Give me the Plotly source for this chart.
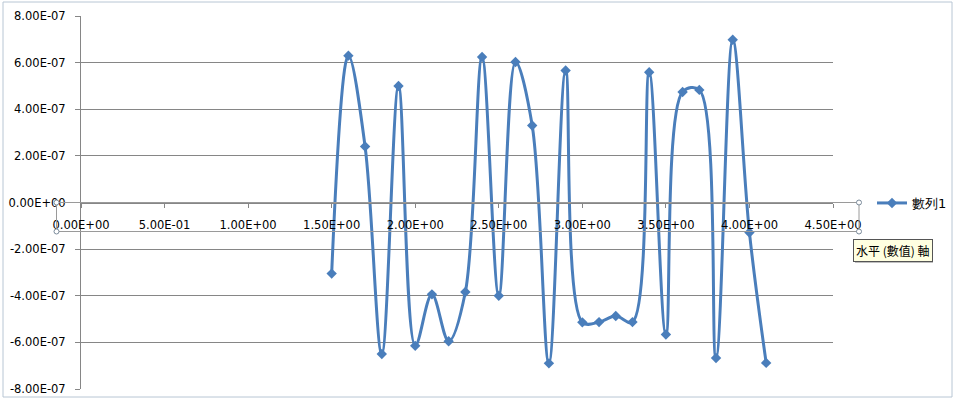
import plotly.graph_objects as go

x_values = [1.5, 1.6, 1.7, 1.8, 1.9, 2.0, 2.1, 2.2, 2.3, 2.4, 2.5, 2.6, 2.7, 2.8,
            2.9, 3.0, 3.1, 3.2, 3.3, 3.4, 3.5, 3.6, 3.7, 3.8, 3.9, 4.0, 4.1]
y_values = [-3.05e-7, 6.3e-7, 2.4e-7, -6.5e-7, 5.0e-7, -6.15e-7, -3.94e-7, -5.95e-7,
            -3.84e-7, 6.24e-7, -4.0e-7, 6.03e-7, 3.3e-7, -6.9e-7, 5.66e-7, -5.14e-7,
            -5.13e-7, -4.87e-7, -5.13e-7, 5.59e-7, -5.66e-7, 4.74e-7, 4.83e-7,
            -6.67e-7, 6.98e-7, -1.29e-7, -6.88e-7]
series_name = "數列1"

y_tick_vals = [8e-7, 6e-7, 4e-7, 2e-7, 0, -2e-7, -4e-7, -6e-7, -8e-7]
y_tick_text = ["8.00E-07", "6.00E-07", "4.00E-07", "2.00E-07", "0.00E+00",
               "-2.00E-07", "-4.00E-07", "-6.00E-07", "-8.00E-07"]
x_tick_vals = [0, 0.5, 1.0, 1.5, 2.0, 2.5, 3.0, 3.5, 4.0, 4.5]
x_tick_text = ["0.00E+00", "5.00E-01", "1.00E+00", "1.50E+00", "2.00E+00",
               "2.50E+00", "3.00E+00", "3.50E+00", "4.00E+00", "4.50E+00"]
tooltip_text = "水平 (數值) 軸"

W, H = 959, 400
L, R, T, B = 81, 126, 16, 11
PW, PH = W - L - R, H - T - B

def px(xp):
    return (xp - L) / PW

def py(yp):
    return (H - B - yp) / PH

BLUE = "#4A7EBB"
GRID = "#868686"
FONT = "DejaVu Sans"
FS = 11.5

fig = go.Figure()
fig.add_trace(go.Scatter(
    x=x_values, y=y_values, name=series_name, mode="lines+markers",
    line=dict(color=BLUE, width=3, shape="spline", smoothing=1.0),
    marker=dict(symbol="diamond", size=8, color=BLUE),
))

shapes = [
    # chart border
    dict(type="rect", xref="paper", yref="paper", x0=px(3), x1=px(952), y0=py(397), y1=py(2),
         line=dict(color="#B8C6D4", width=1), layer="below"),
    # selection box around horizontal axis labels
    dict(type="rect", xref="paper", yref="paper", x0=px(56.5), x1=px(859), y0=py(231.5), y1=py(202.5),
         line=dict(color="#9A9A9A", width=1)),
]
for cx, cy in [(56.5, 202.5), (56.5, 231.5), (859, 202.5), (859, 231.5)]:
    shapes.append(dict(type="circle", xref="paper", yref="paper",
                       x0=px(cx - 2.5), x1=px(cx + 2.5), y0=py(cy + 2.5), y1=py(cy - 2.5),
                       line=dict(color="#7A8A9A", width=1), fillcolor="white"))
# tooltip shadow
shapes.append(dict(type="rect", xref="paper", yref="paper", x0=px(855), x1=px(933), y0=py(263), y1=py(243),
                   line=dict(width=0), fillcolor="rgba(0,0,0,0.25)"))

fig.update_layout(
    width=W, height=H,
    margin=dict(l=L, r=R, t=T, b=B, autoexpand=False),
    paper_bgcolor="white", plot_bgcolor="white",
    font=dict(family=FONT, size=FS, color="black"),
    showlegend=True,
    legend=dict(x=px(872), y=py(203), xanchor="left", yanchor="middle",
                font=dict(family=FONT, size=13, color="black"),
                bgcolor="rgba(0,0,0,0)", itemwidth=30, tracegroupgap=0),
    xaxis=dict(range=[0, 4.5], tickvals=x_tick_vals, ticktext=x_tick_text,
               anchor="free", position=0.5, showgrid=False, zeroline=False,
               showline=True, linecolor=GRID, linewidth=1,
               ticks="outside", ticklen=4, tickcolor=GRID, ticklabelstandoff=8,
               tickfont=dict(family=FONT, size=FS, color="black")),
    yaxis=dict(range=[-8e-7, 8e-7], tickvals=y_tick_vals, ticktext=y_tick_text,
               showgrid=True, gridcolor=GRID, gridwidth=1, zeroline=False,
               showline=True, linecolor=GRID, linewidth=1,
               ticks="outside", ticklen=5, tickcolor=GRID, ticklabelstandoff=7,
               tickfont=dict(family=FONT, size=FS, color="black")),
    shapes=shapes,
    annotations=[dict(xref="paper", yref="paper", x=px(853), y=py(250.5),
                      xanchor="left", yanchor="middle", showarrow=False,
                      text=tooltip_text, bgcolor="#FFFFE1", bordercolor="#555555",
                      borderwidth=1, borderpad=2,
                      font=dict(family="Noto Sans CJK TC", size=12, color="black"))],
)

fig.write_html("out.html", config={"displayModeBar": False},
               post_script="document.body.style.margin='0';document.body.style.overflow='hidden';")
